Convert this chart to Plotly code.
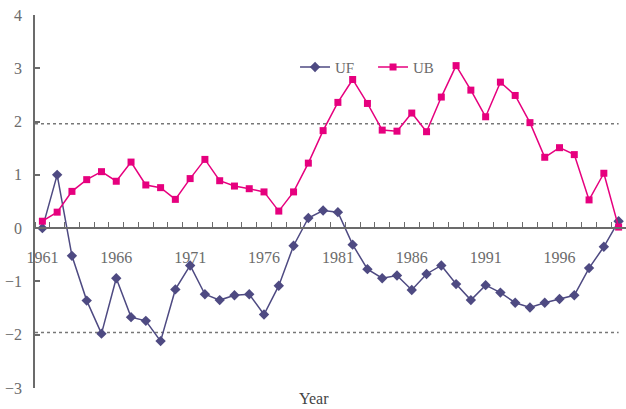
import plotly.graph_objects as go

years = list(range(1961, 2001))
uf = [0.0, 1.0, -0.52, -1.36, -1.98, -0.94, -1.67, -1.74, -2.12, -1.15,
      -0.70, -1.24, -1.35, -1.26, -1.24, -1.62, -1.08, -0.33, 0.19, 0.33,
      0.30, -0.31, -0.77, -0.94, -0.89, -1.16, -0.86, -0.70, -1.05, -1.35,
      -1.07, -1.21, -1.40, -1.49, -1.40, -1.33, -1.26, -0.75, -0.35, 0.13]
ub = [0.13, 0.30, 0.69, 0.91, 1.06, 0.88, 1.24, 0.81, 0.76, 0.54,
      0.93, 1.29, 0.89, 0.79, 0.74, 0.68, 0.32, 0.68, 1.22, 1.83,
      2.36, 2.79, 2.34, 1.84, 1.82, 2.16, 1.81, 2.46, 3.05, 2.59,
      2.09, 2.74, 2.49, 1.98, 1.33, 1.51, 1.38, 0.53, 1.03, 0.02]
x_ticks = [1961, 1966, 1971, 1976, 1981, 1986, 1991, 1996]
y_ticks = [-3, -2, -1, 0, 1, 2, 3, 4]
sig = 1.96

UF_COLOR = "#4E4A82"
UB_COLOR = "#E6007E"
GRAY = "#6b6b6b"
FONT = "Liberation Serif"

fig = go.Figure()
fig.add_trace(go.Scatter(x=years, y=uf, name="UF", mode="lines+markers",
                         line=dict(color=UF_COLOR, width=1.5),
                         marker=dict(symbol="diamond", size=8, color=UF_COLOR)))
fig.add_trace(go.Scatter(x=years, y=ub, name="UB", mode="lines+markers",
                         line=dict(color=UB_COLOR, width=1.5),
                         marker=dict(symbol="square", size=7, color=UB_COLOR)))

for v in (sig, -sig):
    fig.add_shape(type="line", x0=1960.5, x1=2000, y0=v, y1=v, xref="x", yref="y",
                  line=dict(color="#777777", width=1.5, dash="dot"), layer="below")

fig.update_layout(
    width=626, height=409,
    margin=dict(l=35, r=0, t=15, b=21, autoexpand=False),
    plot_bgcolor="white", paper_bgcolor="white",
    font=dict(family=FONT, size=16, color=GRAY),
    showlegend=True,
    legend=dict(orientation="h", x=0.44, y=0.86, xanchor="left", yanchor="middle",
                bgcolor="rgba(0,0,0,0)", font=dict(family=FONT, size=15, color=GRAY),
                itemwidth=30, entrywidth=33, entrywidthmode="pixels", tracegroupgap=0),
    xaxis=dict(range=[1960.5, 2000.5], anchor="free", position=3/7, automargin=False,
               tickvals=x_ticks, ticktext=[str(t) for t in x_ticks],
               ticks="", showgrid=False, zeroline=False, ticklabelstandoff=15,
               showline=True, linecolor=GRAY, linewidth=1.5,
               tickfont=dict(family=FONT, size=16, color=GRAY),
               minor=dict(tick0=1960.5, dtick=1, ticks="inside", ticklen=5,
                          tickcolor=GRAY, tickwidth=1, showgrid=False)),
    yaxis=dict(range=[-3, 4], tickvals=y_ticks, ticks="inside", ticklen=5, automargin=False,
               tickcolor=GRAY, tickwidth=1.5, showgrid=False, zeroline=False,
               ticklabelstandoff=8,
               showline=True, linecolor=GRAY, linewidth=1.5,
               tickfont=dict(family=FONT, size=16, color=GRAY)),
)
fig.add_annotation(text="Year", xref="paper", yref="paper", x=0.472, y=-0.057,
                   showarrow=False, font=dict(family=FONT, size=16, color="#444444"))

fig.write_html("out.html", config={"displayModeBar": False},
               post_script="document.body.style.margin='0';document.body.style.overflow='hidden';")
